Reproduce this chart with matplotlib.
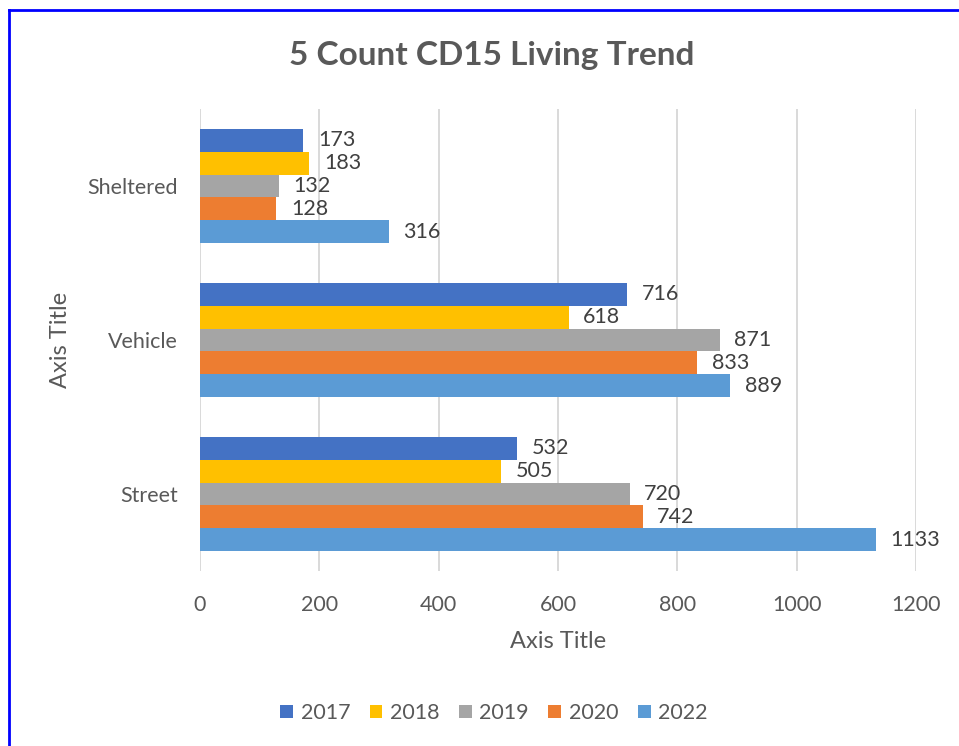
import numpy as np
import matplotlib
matplotlib.use("Agg")
import matplotlib.pyplot as plt
from matplotlib.lines import Line2D
from matplotlib.patches import Patch

plt.rcParams["font.family"] = ["Lato", "DejaVu Sans"]

categories = ["Street", "Vehicle", "Sheltered"]
years = ["2017", "2018", "2019", "2020", "2022"]
v2017 = [532, 716, 173]
v2018 = [505, 618, 183]
v2019 = [720, 871, 132]
v2020 = [742, 833, 128]
v2022 = [1133, 889, 316]
colors = ["#4472C4", "#FFC000", "#A5A5A5", "#ED7D31", "#5B9BD5"]

series = [v2017, v2018, v2019, v2020, v2022]
grey = "#595959"

fig = plt.figure(figsize=(9.59, 7.46), dpi=100)
ax = fig.add_axes([0.2086, 0.2346, 0.7466, 0.6193])

y = np.arange(len(categories))
h = 0.148
for i, (vals, c) in enumerate(zip(series, colors)):
    off = (2 - i) * h
    bars = ax.barh(y + off, vals, height=h, color=c, zorder=3)
    for b, v in zip(bars, vals):
        ax.annotate(str(v), (b.get_width(), b.get_y() + h / 2),
                    xytext=(10.5, 0), textcoords="offset points",
                    va="center", ha="left", fontsize=15.5, color="#404040")

ax.set_xlim(0, 1200)
ax.set_ylim(-0.5, 2.5)
ax.set_xticks(range(0, 1201, 200))
ax.set_yticks(y)
ax.set_yticklabels(categories)
ax.tick_params(axis="both", length=0, labelsize=15.5, labelcolor=grey)
ax.tick_params(axis="x", pad=17)
ax.tick_params(axis="y", pad=16)
ax.grid(axis="x", color="#D9D9D9", linewidth=1.4, zorder=0)
for s in ax.spines.values():
    s.set_visible(False)

ax.set_xlabel("Axis Title", fontsize=17, color=grey, labelpad=12)
ax.set_ylabel("Axis Title", fontsize=17, color=grey, labelpad=12)

fig.text(0.513, 0.925, "5 Count CD15 Living Trend", ha="center", va="center",
         fontsize=24, fontweight="bold", color=grey)

handles = [Patch(facecolor=c, edgecolor="none") for c in colors]
fig.legend(handles, years, loc="center", bbox_to_anchor=(0.515, 0.044), ncol=5,
           frameon=False, fontsize=15.5, labelcolor=grey, handlelength=0.6,
           handleheight=0.6, handletextpad=0.35, columnspacing=0.9)

# partial blue frame (top and left edges)
fig.add_artist(Line2D([0.0094, 1.0], [0.9866, 0.9866], color="#0000FF", linewidth=2))
fig.add_artist(Line2D([0.0094, 0.0094], [0.0, 0.9866], color="#0000FF", linewidth=2))

fig.savefig("out.png", dpi=100)
